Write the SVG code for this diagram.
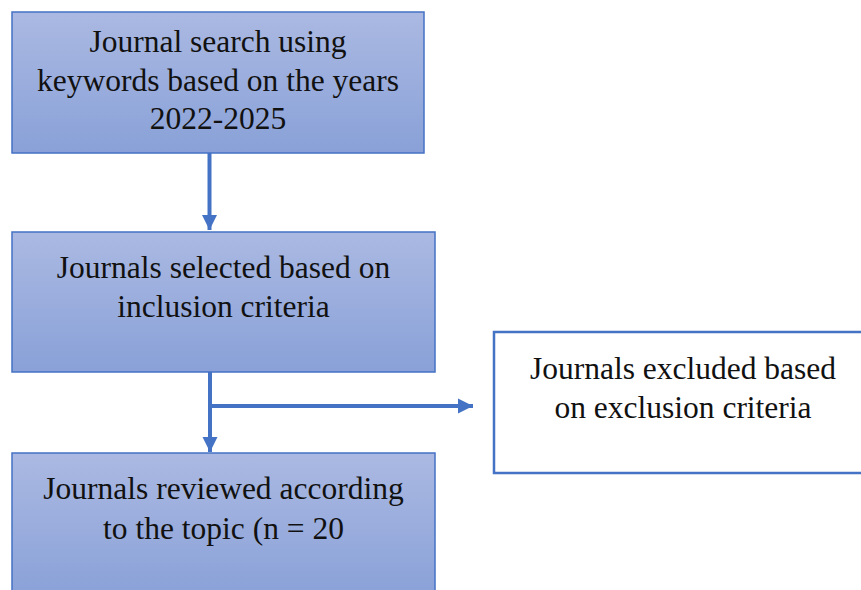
<svg xmlns="http://www.w3.org/2000/svg" width="861" height="590" viewBox="0 0 861 590">
  <defs>
    <linearGradient id="g" x1="0" y1="0" x2="0" y2="1">
      <stop offset="0" stop-color="#abb9e2"/>
      <stop offset="1" stop-color="#89a1d8"/>
    </linearGradient>
    <marker id="ah" markerUnits="userSpaceOnUse" markerWidth="16" markerHeight="16" viewBox="0 0 16 16" refX="15" refY="8" orient="auto">
      <path d="M0,0.5 L15,8 L0,15.5 Z" fill="#4472c4"/>
    </marker>
    <style>
      .box { fill: url(#g); stroke: #4472c4; stroke-width: 1.5; }
      .wbox { fill: #ffffff; stroke: #4472c4; stroke-width: 2.5; }
      .t { font-family: "Liberation Serif", "Times New Roman", serif; font-size: 31.5px; fill: #111111; text-anchor: middle; }
      .c { fill: none; stroke: #4472c4; stroke-width: 4; }
    </style>
  </defs>
  <rect width="861" height="590" fill="#ffffff"/>
  <g id="connectors">
    <line class="c" x1="209.5" y1="153" x2="209.5" y2="230" marker-end="url(#ah)"/>
    <line class="c" x1="210" y1="372" x2="210" y2="452" marker-end="url(#ah)"/>
    <line class="c" x1="208" y1="406" x2="473" y2="406" marker-end="url(#ah)"/>
  </g>
  <g id="search">
    <rect class="box" x="12" y="12" width="412" height="141"/>
    <text class="t" x="218" y="52">Journal search using</text>
    <text class="t" x="218" y="91">keywords based on the years</text>
    <text class="t" x="218" y="129">2022-2025</text>
  </g>
  <g id="selected">
    <rect class="box" x="12" y="232" width="423" height="140"/>
    <text class="t" x="223.5" y="278">Journals selected based on</text>
    <text class="t" x="223.5" y="317">inclusion criteria</text>
  </g>
  <g id="excluded">
    <rect class="wbox" x="494" y="332" width="380" height="141"/>
    <text class="t" x="683" y="379">Journals excluded based</text>
    <text class="t" x="683" y="418">on exclusion criteria</text>
  </g>
  <g id="reviewed">
    <rect class="box" x="12" y="453" width="423" height="145"/>
    <text class="t" x="223.5" y="499">Journals reviewed according</text>
    <text class="t" x="223.5" y="539">to the topic (n = 20</text>
  </g>
</svg>
